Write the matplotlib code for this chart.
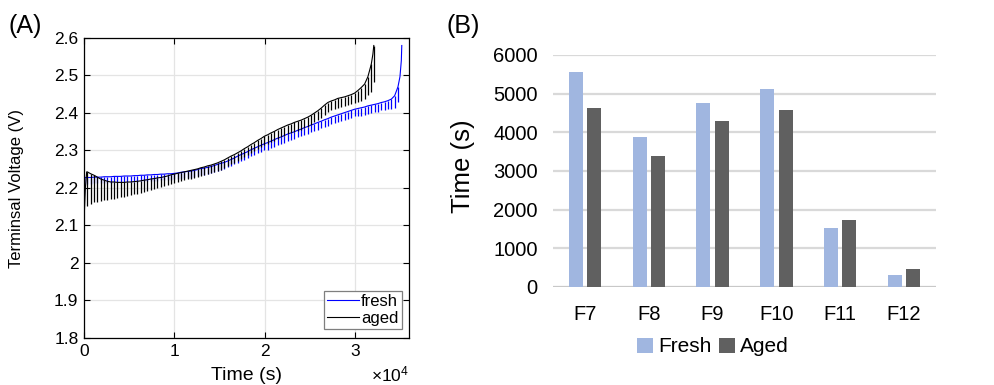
import numpy as np
import matplotlib
matplotlib.use("Agg")
import matplotlib.pyplot as plt

plt.rcParams['font.family'] = ['Liberation Sans', 'DejaVu Sans']
plt.rcParams['mathtext.fontset'] = 'custom'
plt.rcParams['mathtext.rm'] = 'Liberation Sans'

# ---- panel A: pulsed discharge voltage, read per pulse ----
pulse_period = 370  # s between pulses

fresh_top = [2.228, 2.228, 2.229, 2.229, 2.229, 2.230, 2.230, 2.230, 2.231, 2.231,
             2.231, 2.232, 2.232, 2.232, 2.233, 2.233, 2.234, 2.234, 2.235, 2.235,
             2.236, 2.236, 2.237, 2.237, 2.238, 2.238, 2.239, 2.240, 2.242, 2.243,
             2.244, 2.245, 2.247, 2.249, 2.252, 2.253, 2.255, 2.257, 2.260, 2.263,
             2.266, 2.268, 2.272, 2.276, 2.280, 2.285, 2.289, 2.293, 2.297, 2.302,
             2.306, 2.310, 2.314, 2.318, 2.321, 2.325, 2.329, 2.333, 2.336, 2.340,
             2.344, 2.347, 2.350, 2.354, 2.357, 2.361, 2.364, 2.368, 2.371, 2.375,
             2.378, 2.382, 2.385, 2.389, 2.392, 2.395, 2.398, 2.401, 2.404, 2.407,
             2.410, 2.412, 2.414, 2.416, 2.419, 2.421, 2.423, 2.425, 2.428, 2.430,
             2.433, 2.437, 2.446, 2.470]
fresh_low = [2.212, 2.212, 2.213, 2.213, 2.213, 2.214, 2.214, 2.214, 2.215, 2.215,
             2.215, 2.216, 2.216, 2.216, 2.217, 2.217, 2.218, 2.218, 2.219, 2.219,
             2.220, 2.220, 2.221, 2.221, 2.222, 2.222, 2.223, 2.223, 2.225, 2.226,
             2.227, 2.228, 2.230, 2.232, 2.235, 2.236, 2.238, 2.240, 2.243, 2.246,
             2.249, 2.251, 2.255, 2.259, 2.263, 2.268, 2.272, 2.276, 2.280, 2.285,
             2.289, 2.293, 2.297, 2.301, 2.302, 2.306, 2.310, 2.314, 2.317, 2.321,
             2.325, 2.328, 2.331, 2.335, 2.338, 2.342, 2.345, 2.349, 2.352, 2.356,
             2.359, 2.363, 2.366, 2.370, 2.373, 2.376, 2.379, 2.382, 2.385, 2.388,
             2.391, 2.391, 2.393, 2.395, 2.398, 2.400, 2.402, 2.404, 2.407, 2.409,
             2.412, 2.411, 2.413, 2.430]
fresh_head_t = [0, 100]
fresh_head_v = [2.13, 2.228]
fresh_tail_t = [35000, 35150, 35200]
fresh_tail_v = [2.497, 2.54, 2.58]

aged_top = [2.243, 2.238, 2.234, 2.229, 2.224, 2.221, 2.218, 2.216, 2.216, 2.215,
            2.215, 2.215, 2.216, 2.216, 2.217, 2.218, 2.219, 2.221, 2.222, 2.224,
            2.225, 2.227, 2.228, 2.230, 2.232, 2.235, 2.237, 2.239, 2.241, 2.243,
            2.245, 2.247, 2.249, 2.251, 2.254, 2.256, 2.259, 2.261, 2.264, 2.267,
            2.271, 2.275, 2.280, 2.285, 2.289, 2.294, 2.299, 2.305, 2.310, 2.316,
            2.321, 2.327, 2.332, 2.338, 2.342, 2.347, 2.351, 2.356, 2.360, 2.364,
            2.368, 2.371, 2.375, 2.378, 2.381, 2.385, 2.389, 2.394, 2.400, 2.406,
            2.413, 2.421, 2.428, 2.432, 2.435, 2.439, 2.441, 2.443, 2.446, 2.449,
            2.453, 2.460, 2.468, 2.477, 2.497, 2.530]
aged_low = [2.153, 2.158, 2.162, 2.164, 2.166, 2.167, 2.168, 2.170, 2.172, 2.173,
            2.175, 2.177, 2.180, 2.181, 2.183, 2.185, 2.187, 2.190, 2.192, 2.195,
            2.197, 2.200, 2.202, 2.205, 2.208, 2.211, 2.214, 2.217, 2.219, 2.221,
            2.223, 2.225, 2.227, 2.229, 2.232, 2.234, 2.237, 2.239, 2.242, 2.245,
            2.249, 2.253, 2.258, 2.263, 2.267, 2.272, 2.277, 2.283, 2.288, 2.294,
            2.299, 2.305, 2.310, 2.316, 2.317, 2.322, 2.326, 2.331, 2.335, 2.339,
            2.343, 2.346, 2.350, 2.353, 2.356, 2.360, 2.364, 2.369, 2.375, 2.381,
            2.388, 2.396, 2.403, 2.407, 2.410, 2.414, 2.416, 2.418, 2.421, 2.424,
            2.428, 2.430, 2.433, 2.437, 2.447, 2.455]
aged_head_t = [0, 150, 300]
aged_head_v = [2.11, 2.20, 2.243]
aged_tail_t = [32000, 32100]
aged_tail_v = [2.557, 2.58]
aged_rest_v = 2.483

# ---- panel B: time per profile ----
profiles = ["F7", "F8", "F9", "F10", "F11", "F12"]
fresh_time = [5550, 3875, 4760, 5120, 1515, 300]
aged_time = [4620, 3380, 4305, 4570, 1740, 465]

fig = plt.figure(figsize=(9.94, 3.85), dpi=100)

# panel A
axA = fig.add_axes([84 / 994, 47 / 385, 325 / 994, 300 / 385])
for top, low, head_t, head_v, tail_t, tail_v, col, lab in [
        (fresh_top, fresh_low, fresh_head_t, fresh_head_v, fresh_tail_t, fresh_tail_v, '#0000ff', 'fresh'),
        (aged_top, aged_low, aged_head_t, aged_head_v, aged_tail_t, aged_tail_v, 'black', 'aged')]:
    tp = pulse_period * np.arange(1, len(top) + 1)
    t = np.concatenate([head_t, tp, tail_t])
    v = np.concatenate([head_v, top, tail_v])
    axA.plot(t, v, color=col, lw=0.8, label=lab)
    axA.vlines(tp, low, top, color=col, lw=0.9)
axA.vlines(aged_tail_t[-1], aged_rest_v, aged_tail_v[-1], color='black', lw=0.9)

axA.set_xlim(0, 36000)
axA.set_ylim(1.8, 2.6)
axA.set_xticks([0, 10000, 20000, 30000])
axA.set_xticklabels(["0", "1", "2", "3"])
axA.set_yticks(np.arange(1.8, 2.61, 0.1))
axA.set_yticklabels(["1.8", "1.9", "2", "2.1", "2.2", "2.3", "2.4", "2.5", "2.6"])
axA.tick_params(direction='in', top=True, right=True, length=4, width=0.8,
                labelsize=12.5, pad=4)
axA.grid(True, color='#e4e4e4', lw=0.9)
axA.set_axisbelow(True)
for s in axA.spines.values():
    s.set_linewidth(0.9)
axA.set_xlabel("Time (s)", fontsize=14)
axA.xaxis.set_label_coords(0.5, -0.095)
axA.set_ylabel("Terminsal Voltage (V)", fontsize=12)
axA.yaxis.set_label_coords(-0.185, 0.5)
axA.text(1.0, -0.12, r'$\times\mathregular{10^4}$', transform=axA.transAxes,
         ha='right', va='center', fontsize=12.5)
leg = axA.legend(loc='lower right', bbox_to_anchor=(0.978, 0.03), borderaxespad=0,
                 fontsize=12, fancybox=False, edgecolor='#7f7f7f', framealpha=1,
                 handlelength=1.9, handletextpad=0.15, borderpad=0.2, labelspacing=0.1)
leg.get_frame().set_linewidth(0.9)

fig.text(9 / 994, 1 - 26 / 385, "(A)", fontsize=18, ha='left', va='center')

# panel B
axB = fig.add_axes([553 / 994, 98 / 385, 383 / 994, 232 / 385])
x = np.arange(len(profiles))
w = 0.22
axB.bar(x - 0.143, fresh_time, w, color='#a0b6e0', label='Fresh', zorder=2)
axB.bar(x + 0.143, aged_time, w, color='#606060', label='Aged', zorder=2)
axB.set_xlim(-0.5, 5.5)
axB.set_ylim(0, 6000)
axB.set_yticks(range(0, 6001, 1000))
axB.set_xticks(x)
axB.set_xticklabels(profiles)
axB.yaxis.grid(True, color='#d9d9d9', lw=1.6)
axB.set_axisbelow(True)
axB.axhline(0, color='#c8c8c8', lw=2.2, zorder=1)
for s in axB.spines.values():
    s.set_visible(False)
axB.tick_params(axis='y', length=0, labelsize=14.5, pad=11)
axB.tick_params(axis='x', length=0, labelsize=14.5, pad=13)
fig.text(463 / 994, 1 - 166 / 385, "Time (s)", rotation=90, fontsize=18.5,
         ha='center', va='center')
fig.legend(*axB.get_legend_handles_labels(), loc='center', ncol=2,
           bbox_to_anchor=(713 / 994, 38 / 385), frameon=False, fontsize=15,
           handlelength=0.75, handleheight=0.75, handletextpad=0.25, columnspacing=0.4)
fig.text(446 / 994, 1 - 26 / 385, "(B)", fontsize=18, ha='left', va='center')

fig.savefig("out.png", dpi=100)
